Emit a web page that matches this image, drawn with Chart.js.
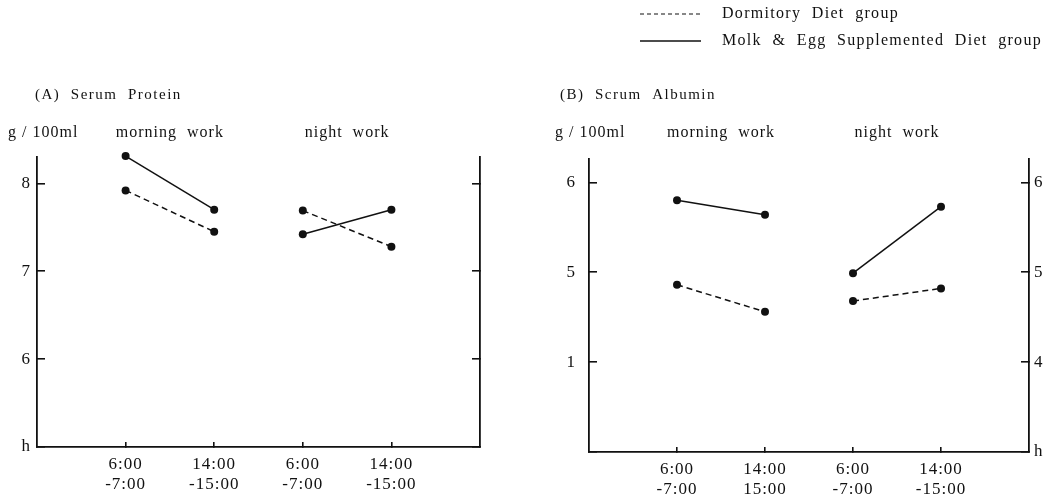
<!DOCTYPE html>
<html>
<head>
<meta charset="utf-8">
<script src="https://cdn.jsdelivr.net/npm/chart.js@4"></script>
<style>
  html, body { margin: 0; padding: 0; background: #fff; }
  .panel { position: absolute; top: 0; width: 524px; height: 496px; }
</style>
</head>
<body>
<div class="panel" style="left:0"><canvas id="chartA" width="524" height="496"></canvas></div>
<div class="panel" style="left:524px"><canvas id="chartB" width="524" height="496"></canvas></div>
<script>
// categories (x positions of the four sampling times)
const xPos = [1, 2, 3, 4];
const xTop = ['6:00', '14:00', '6:00', '14:00'];
const xBottomA = ['-7:00', '-15:00', '-7:00', '-15:00'];
const xBottomB = ['-7:00', '15:00', '-7:00', '-15:00'];
const groupNames = ['morning  work', 'night  work'];
const groupAt = [1.5, 3.5];
const seriesNames = ['Dormitory  Diet  group', 'Molk  &  Egg  Supplemented  Diet  group'];

// (A) Serum Protein, g/100ml
const proteinDorm = [7.92, 7.45, 7.69, 7.28];
const proteinMilk = [8.31, 7.70, 7.42, 7.70];
const yTicksA = [5, 6, 7, 8];
const yLabelsA = ['h', '6', '7', '8'];

// (B) Serum Albumin, g/100ml
const albuminDorm = [4.86, 4.56, 4.68, 4.82];
const albuminMilk = [5.80, 5.64, 4.99, 5.73];
const yTicksB = [3, 4, 5, 6];
const yLabelsB = ['', '1', '5', '6'];
const yLabelsBRight = ['h', '4', '5', '6'];

const FONT = '"Liberation Serif", "Times New Roman", serif';
const INK = '#111';

const toPoints = vals => vals.map((v, i) => ({ x: xPos[i], y: v }));

// no line between the morning and night pairs
const gap = { borderColor: c => c.p0DataIndex === 1 ? 'rgba(0,0,0,0)' : undefined };

function makeDatasets(dorm, milk) {
    return [
        {
            label: seriesNames[0], data: toPoints(dorm),
            borderColor: INK, borderWidth: 1.5, borderDash: [6, 4],
            pointRadius: 4, pointBackgroundColor: INK, pointBorderWidth: 0,
            segment: gap, clip: false
        },
        {
            label: seriesNames[1], data: toPoints(milk),
            borderColor: INK, borderWidth: 1.5,
            pointRadius: 4, pointBackgroundColor: INK, pointBorderWidth: 0,
            segment: gap, clip: false
        }
    ];
}

function yAxis(pos, min, max, ticks, labels, width, padding) {
    return {
        type: 'linear', position: pos, min: min, max: max,
        afterBuildTicks: s => { s.ticks = ticks.map(v => ({ value: v })); },
        afterFit: s => { s.width = width; },
        border: { display: true, color: INK, width: 1.8 },
        grid: { drawOnChartArea: false, drawTicks: true, tickLength: -8, color: INK, lineWidth: 1.6 },
        ticks: {
            display: !!labels, padding: padding, color: INK,
            font: { family: FONT, size: 17 },
            callback: (v, i) => labels ? labels[i] : ''
        }
    };
}

function xAxis(bottom, height) {
    return {
        type: 'linear', min: 0, max: 5,
        afterBuildTicks: s => { s.ticks = xPos.map(v => ({ value: v })); },
        afterFit: s => { s.height = height; },
        border: { display: true, color: INK, width: 1.8 },
        grid: { drawOnChartArea: false, drawTicks: true, tickLength: -5, color: INK, lineWidth: 1.6 },
        ticks: {
            padding: 12, color: INK, maxRotation: 0, autoSkip: false,
            font: { family: FONT, size: 17, lineHeight: 1.2 },
            callback: (v, i) => [xTop[i], bottom[i]]
        }
    };
}

// titles, unit, group headings and the shared legend
function figureText(cfg) {
    return {
        id: 'figureText',
        beforeDraw(chart) { chart.ctx.letterSpacing = '1px'; },
        afterDraw(chart) {
            const ctx = chart.ctx, xs = chart.scales.x;
            ctx.save();
            ctx.fillStyle = INK;
            ctx.textBaseline = 'middle';
            ctx.textAlign = 'left';
            ctx.font = '15px ' + FONT;
            ctx.letterSpacing = '1.5px';
            ctx.fillText(cfg.title, cfg.titleX, 95);
            ctx.font = '16px ' + FONT;
            ctx.letterSpacing = '1px';
            ctx.fillText('g / 100ml', cfg.unitX, 133);
            ctx.textAlign = 'center';
            groupNames.forEach((g, i) => ctx.fillText(g, xs.getPixelForValue(groupAt[i]), 133));
            if (cfg.legend) {
                ctx.textAlign = 'left';
                ctx.letterSpacing = '1.3px';
                chart.data.datasets.forEach((ds, i) => {
                    const y = 14 + i * 27;
                    ctx.strokeStyle = INK;
                    ctx.lineWidth = ds.borderDash ? 1.2 : 1.6;
                    ctx.setLineDash(ds.borderDash ? [4, 3] : []);
                    ctx.beginPath();
                    ctx.moveTo(116, y);
                    ctx.lineTo(177, y);
                    ctx.stroke();
                    ctx.fillText(ds.label, 198, y);
                });
            }
            ctx.restore();
        }
    };
}

function baseOptions(top) {
    return {
        responsive: false,
        animation: false,
        layout: { padding: { top: top, left: 0, right: 0, bottom: 0 } },
        plugins: { legend: { display: false }, tooltip: { enabled: false }, title: { display: false } }
    };
}

const optsA = baseOptions(157);
optsA.scales = {
    x: xAxis(xBottomA, 49),
    y: yAxis('left', 5, 8.3, yTicksA, yLabelsA, 37, 14),
    yR: yAxis('right', 5, 8.3, yTicksA, null, 44, 0)
};
new Chart(document.getElementById('chartA'), {
    type: 'line',
    data: { datasets: makeDatasets(proteinDorm, proteinMilk) },
    options: optsA,
    plugins: [figureText({ title: '(A)  Serum  Protein', titleX: 35, unitX: 8, legend: false })]
});

const optsB = baseOptions(159);
optsB.scales = {
    x: xAxis(xBottomB, 44),
    y: yAxis('left', 3, 6.26, yTicksB, yLabelsB, 65, 21),
    yR: yAxis('right', 3, 6.26, yTicksB, yLabelsBRight, 19, 13)
};
new Chart(document.getElementById('chartB'), {
    type: 'line',
    data: { datasets: makeDatasets(albuminDorm, albuminMilk) },
    options: optsB,
    plugins: [figureText({ title: '(B)  Scrum  Albumin', titleX: 36, unitX: 31, legend: true })]
});
</script>
</body>
</html>
